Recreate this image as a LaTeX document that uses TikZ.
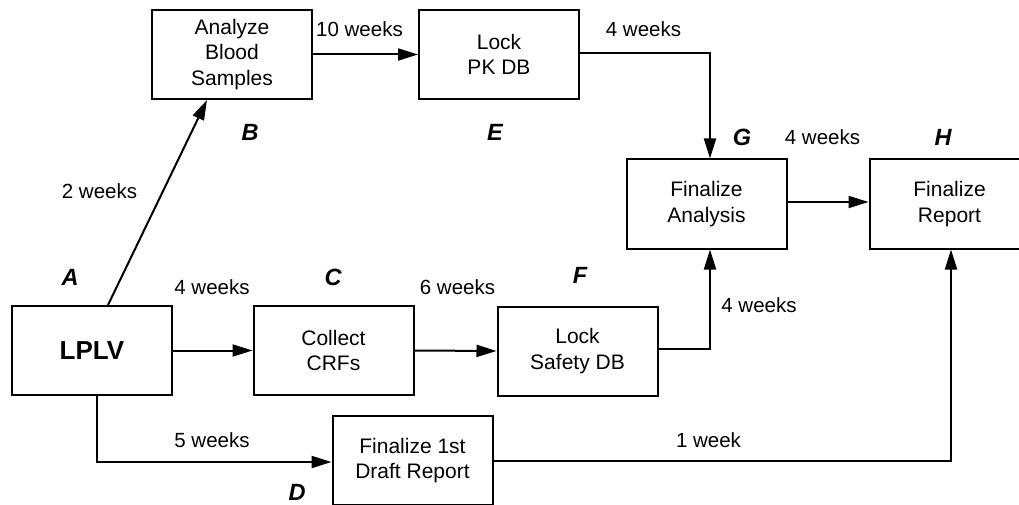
\documentclass[tikz,border=0pt]{standalone}
\usepackage{fontspec}
\setmainfont{Liberation Sans}
\usetikzlibrary{arrows.meta,calc}
\begin{document}
\begin{tikzpicture}[x=1pt,y=-1pt,
  box/.style={draw=black,line width=2pt,minimum width=160pt,minimum height=89pt,inner sep=0pt,align=center,font=\fontsize{21}{25.5}\selectfont},
  conn/.style={line width=2pt,-{Triangle[length=20pt,width=12pt]}},
  dur/.style={inner sep=0pt,font=\fontsize{20.5}{24}\selectfont},
  letter/.style={inner sep=0pt,font=\fontsize{23.5}{28}\selectfont\bfseries\itshape}]
\useasboundingbox (0,0) rectangle (1019,505);
\clip (0,0) rectangle (1019,505);
\fill[white] (0,0) rectangle (1019,505);
% boxes
\node[box,font=\fontsize{26}{30}\selectfont\bfseries] (lplv) at (92,350.5) {LPLV};
\node[box] (analyze) at (232,54.5) {Analyze\\Blood\\Samples};
\node[box] (lockpk) at (499,54.5) {Lock\\PK DB};
\node[box] (collect) at (333.5,350.5) {Collect\\CRFs};
\node[box] (safety) at (577.5,351) {Lock\\Safety DB};
\node[box] (analysis) at (706.5,204) {Finalize\\Analysis};
\node[box] (report) at (949.5,204) {Finalize\\Report};
\node[box] (draft) at (412.5,460.5) {Finalize 1st\\Draft Report};
% connectors
\draw[conn] ($(lplv.north)+(16,0)$) -- ($(analyze.south)+(-25,0)$);
\draw[conn] (analyze.east) -- (lockpk.west);
\draw[conn] ($(lockpk.east)+(0,-1.5)$) -| ($(analysis.north)+(3.5,0)$);
\draw[conn] (lplv.east) -- (collect.west);
\draw[conn] (collect.east) -- (safety.west);
\draw[conn] ($(safety.east)+(0,-2)$) -| ($(analysis.south)+(3.5,0)$);
\draw[conn] ($(analysis.east)+(0,-2)$) -- ($(report.west)+(0,-2)$);
\draw[conn] ($(lplv.south)+(5,0)$) |- ($(draft.west)+(0,1.5)$);
\draw[conn] ($(draft.east)+(0,0.5)$) -| ($(report.south)+(1.5,0)$);
% durations
\node[dur] (d1) at (99.5,191) {2 weeks};
\node[dur] (d2) at (359.5,29) {10 weeks};
\node[dur] (d3) at (643.5,29) {4 weeks};
\node[dur] (d4) at (822.5,137) {4 weeks};
\node[dur] (d5) at (212,287) {4 weeks};
\node[dur] (d6) at (457.5,287) {6 weeks};
\node[dur] (d7) at (759,305) {4 weeks};
\node[dur] (d8) at (212,440) {5 weeks};
\node[dur] (d9) at (708.5,440) {1 week};
% letters
\node[letter] (la) at (70,277) {A};
\node[letter] (lb) at (250,132) {B};
\node[letter] (lc) at (333,277) {C};
\node[letter] (ld) at (297,492) {D};
\node[letter] (le) at (495,132) {E};
\node[letter] (lf) at (580,275) {F};
\node[letter] (lg) at (742,137) {G};
\node[letter] (lh) at (943,137) {H};
\end{tikzpicture}
\end{document}
